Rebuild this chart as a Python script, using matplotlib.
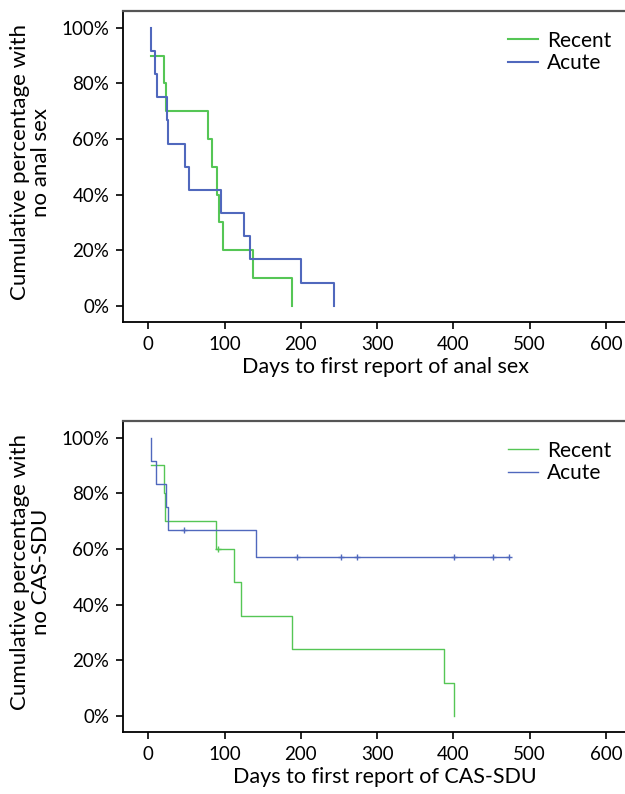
import matplotlib
matplotlib.use("Agg")
import matplotlib.pyplot as plt
import numpy as np
from matplotlib.ticker import FuncFormatter

# Panel 1: days to first report of anal sex
anal_acute_t = [3, 4, 9, 11, 24, 26, 48, 54, 95, 126, 133, 200, 243]
anal_acute_s = [100, 91.7, 83.3, 75, 66.7, 58.3, 50, 41.7, 33.3, 25, 16.7, 8.3, 0]
anal_recent_t = [3, 21, 23, 78, 84, 90, 93, 98, 137, 189]
anal_recent_s = [90, 80, 70, 60, 50, 40, 30, 20, 10, 0]

# Panel 2: days to first report of CAS-SDU
cas_acute_t = [3, 4, 10.5, 23.5, 25.5, 141, 473]
cas_acute_s = [100, 91.7, 83.3, 75, 66.7, 57.1, 57.1]
cas_acute_cens = [47, 195, 252, 273, 401, 452, 473]
cas_recent_t = [3, 20, 21.5, 89, 112, 121, 189, 388, 401]
cas_recent_s = [90, 80, 70, 60, 48, 36, 24, 12, 0]
cas_recent_cens = [92]

GREEN = "#55c655"
BLUE = "#5068bd"
FONT = "Lato"

plt.rcParams["font.family"] = [FONT, "DejaVu Sans"]


def surv_at(t_steps, s_steps, t):
    idx = np.searchsorted(t_steps, t, side="right") - 1
    return s_steps[max(idx, 0)]


def draw_panel(ax, rt, rs, at, as_, xlabel, ylabel, lw, r_cens=None, a_cens=None):
    ax.step(rt, rs, where="post", color=GREEN, lw=lw, label="Recent")
    ax.step(at, as_, where="post", color=BLUE, lw=lw, label="Acute")
    if r_cens:
        ax.plot(r_cens, [surv_at(rt, rs, c) for c in r_cens], "+", color=GREEN,
                ms=5, mew=1.0)
    if a_cens:
        ax.plot(a_cens, [surv_at(at, as_, c) for c in a_cens], "+", color=BLUE,
                ms=5, mew=1.0)
    ax.set_xlim(-33, 625)
    ax.set_ylim(-5.8, 106)
    ax.set_xticks(range(0, 700, 100))
    ax.set_yticks(range(0, 101, 20))
    ax.yaxis.set_major_formatter(FuncFormatter(lambda v, p: f"{v:.0f}%"))
    ax.tick_params(direction="out", length=5, width=1.2, labelsize=13.5, pad=5)
    ax.spines["right"].set_visible(False)
    ax.spines["top"].set_color("#555555")
    ax.spines["top"].set_linewidth(1.6)
    for s in ("left", "bottom"):
        ax.spines[s].set_linewidth(1.3)
    ax.set_xlabel(xlabel, fontsize=15.5)
    ax.xaxis.set_label_coords(0.522, -0.113)
    ax.set_ylabel(ylabel, fontsize=16, linespacing=1.1)
    ax.yaxis.set_label_coords(-0.143, 0.514)
    ax.legend(loc="upper right", frameon=False, fontsize=15, handlelength=1.45,
              handletextpad=0.4, labelspacing=0.12, borderaxespad=0, borderpad=0,
              bbox_to_anchor=(0.972, 0.937))


fig = plt.figure(figsize=(6.25, 7.94), dpi=100)
ax1 = fig.add_axes([0.197, 0.5945, 0.803, 0.3915])
ax2 = fig.add_axes([0.197, 0.078, 0.803, 0.3918])

draw_panel(ax1, anal_recent_t, anal_recent_s, anal_acute_t, anal_acute_s,
           "Days to first report of anal sex",
           "Cumulative percentage with\nno anal sex", lw=1.5)
draw_panel(ax2, cas_recent_t, cas_recent_s, cas_acute_t, cas_acute_s,
           "Days to first report of CAS-SDU",
           "Cumulative percentage with\nno CAS-SDU", lw=1.0,
           r_cens=cas_recent_cens, a_cens=cas_acute_cens)

fig.savefig("out.png", dpi=100)
